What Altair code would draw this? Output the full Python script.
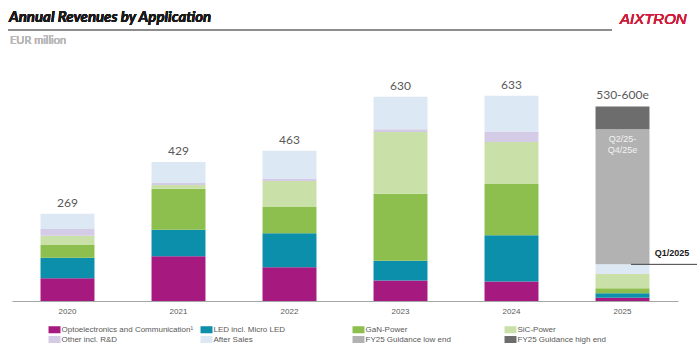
import altair as alt
import pandas as pd

years = ["2020", "2021", "2022", "2023", "2024", "2025"]
series_names = [
    "Optoelectronics and Communication¹",
    "LED incl. Micro LED",
    "GaN-Power",
    "SiC-Power",
    "Other incl. R&D",
    "After Sales",
    "FY25 Guidance low end",
    "FY25 Guidance high end",
]
series_colors = ["#a6197f", "#0b8faa", "#8cbf4e", "#c9e1a9",
                 "#d4cce6", "#dde8f5", "#b2b2b2", "#6d6d6d"]

opto = [70, 138, 104, 63, 60, 10]
led = [63, 82, 105, 61, 143, 14]
gan = [40, 126, 81, 207, 158, 15]
sic = [28, 12, 80, 190, 129, 44]
other = [21, 6, 8, 9, 33, 2]
after_sales = [47, 65, 85, 100, 110, 28]
guid_low = [0, 0, 0, 0, 0, 417]
guid_high = [0, 0, 0, 0, 0, 70]
total_labels = ["269", "429", "463", "630", "633", "530-600e"]

series_values = [opto, led, gan, sic, other, after_sales, guid_low, guid_high]

rows = []
for si, (name, vals) in enumerate(zip(series_names, series_values)):
    for y, v in zip(years, vals):
        if v > 0:
            rows.append({"year": y, "series": name, "value": v, "order": si})
df = pd.DataFrame(rows)

# legend grid is filled column by column: reorder so rows read like the reference
legend_idx = [0, 4, 1, 5, 2, 6, 3, 7]
legend_domain = [series_names[i] for i in legend_idx]
legend_range = [series_colors[i] for i in legend_idx]

totals = [sum(s[i] for s in series_values) for i in range(len(years))]
tot_df = pd.DataFrame({"year": years, "total": totals, "label": total_labels})

q1_total = sum(s[5] for s in series_values[:6])
low_top = q1_total + guid_low[5]
q1_df = pd.DataFrame({"year": ["2025"], "q1": [q1_total], "low_top": [low_top],
                      "t": [["Q2/25-", "Q4/25e"]]})

GRAY = "#595959"
xscale = alt.Scale(domain=years, paddingInner=0.514, paddingOuter=0.257)
yscale = alt.Scale(domain=[0, 700])

bars = alt.Chart(df).mark_bar().encode(
    x=alt.X("year:N", sort=years, scale=xscale,
            axis=alt.Axis(title=None, labelAngle=0, ticks=False, grid=False,
                          domainColor="#a6a6a6", domainWidth=1,
                          labelColor=GRAY, labelFont="Liberation Sans",
                          labelFontSize=8, labelPadding=6)),
    y=alt.Y("value:Q", stack="zero", scale=yscale, axis=None),
    color=alt.Color("series:N",
                    scale=alt.Scale(domain=legend_domain, range=legend_range),
                    legend=alt.Legend(
                        title=None, orient="none", legendX=38, legendY=251,
                        columns=4, gridAlign="all", padding=0,
                        symbolType="M-1.33,-0.78H1.33V0.78H-1.33Z",
                        symbolSize=81, symbolStrokeWidth=0, symbolOpacity=1,
                        labelFont="Liberation Sans", labelFontSize=8,
                        labelColor=GRAY, labelOffset=2.5, labelLimit=400,
                        rowPadding=1, columnPadding=6)),
    order=alt.Order("order:Q", sort="ascending"),
)

tot_text = alt.Chart(tot_df).mark_text(
    dy=-11, fontSize=12, font="Lato", color=GRAY, baseline="middle"
).encode(
    x=alt.X("year:N", sort=years, scale=xscale),
    y=alt.Y("total:Q", scale=yscale),
    text="label:N",
)

q2_text = alt.Chart(q1_df).mark_text(
    fontSize=9, font="Liberation Sans", color="#f2f2f2", lineHeight=11,
    baseline="top", dy=6
).encode(
    x=alt.X("year:N", sort=years, scale=xscale),
    y=alt.Y("low_top:Q", scale=yscale),
    text="t",
)

q1_rule = alt.Chart(q1_df).mark_rule(color="#404040", strokeWidth=1).encode(
    y=alt.Y("q1:Q", scale=yscale),
    x=alt.value(619), x2=alt.value(685),
)
q1_text = alt.Chart(q1_df).mark_text(
    fontSize=9, font="Liberation Sans", fontWeight="bold", color="#1a1a1a",
    align="center", baseline="middle", dy=-11
).encode(
    y=alt.Y("q1:Q", scale=yscale),
    x=alt.value(660),
    text=alt.value("Q1/2025"),
)

title = alt.Chart(tot_df).mark_text(
    fontSize=15, font="Lato", fontWeight="bold", fontStyle="italic",
    color="#1a1a1a", align="left", baseline="alphabetic"
).encode(x=alt.value(-3), y=alt.value(-52), text=alt.value("Annual Revenues by Application"))

title_rule = alt.Chart(tot_df).mark_rule(color="#8c8c8c", strokeWidth=1).encode(
    x=alt.value(-4), x2=alt.value(600), y=alt.value(-44)
)

subtitle = alt.Chart(tot_df).mark_text(
    fontSize=11, font="Lato", color="#b8b8b8", align="left", baseline="middle"
).encode(x=alt.value(-2), y=alt.value(-33), text=alt.value("EUR million"))

logo = alt.Chart(tot_df).mark_text(
    fontSize=15, font="Liberation Sans", fontStyle="italic",
    color="#d01c3a", align="left", baseline="middle"
).encode(x=alt.value(608), y=alt.value(-55), text=alt.value("AIXTRON"))

chart = alt.layer(
    bars, tot_text, q2_text, q1_rule, q1_text, title, title_rule, subtitle, logo
).properties(
    width=666, height=227,
    autosize=alt.AutoSizeParams(type="none"),
    padding={"left": 12, "top": 74, "right": 22, "bottom": 52},
    background="white",
).configure_view(stroke=None)

chart.save("out.html", embed_options={"renderer": "svg", "actions": False})
